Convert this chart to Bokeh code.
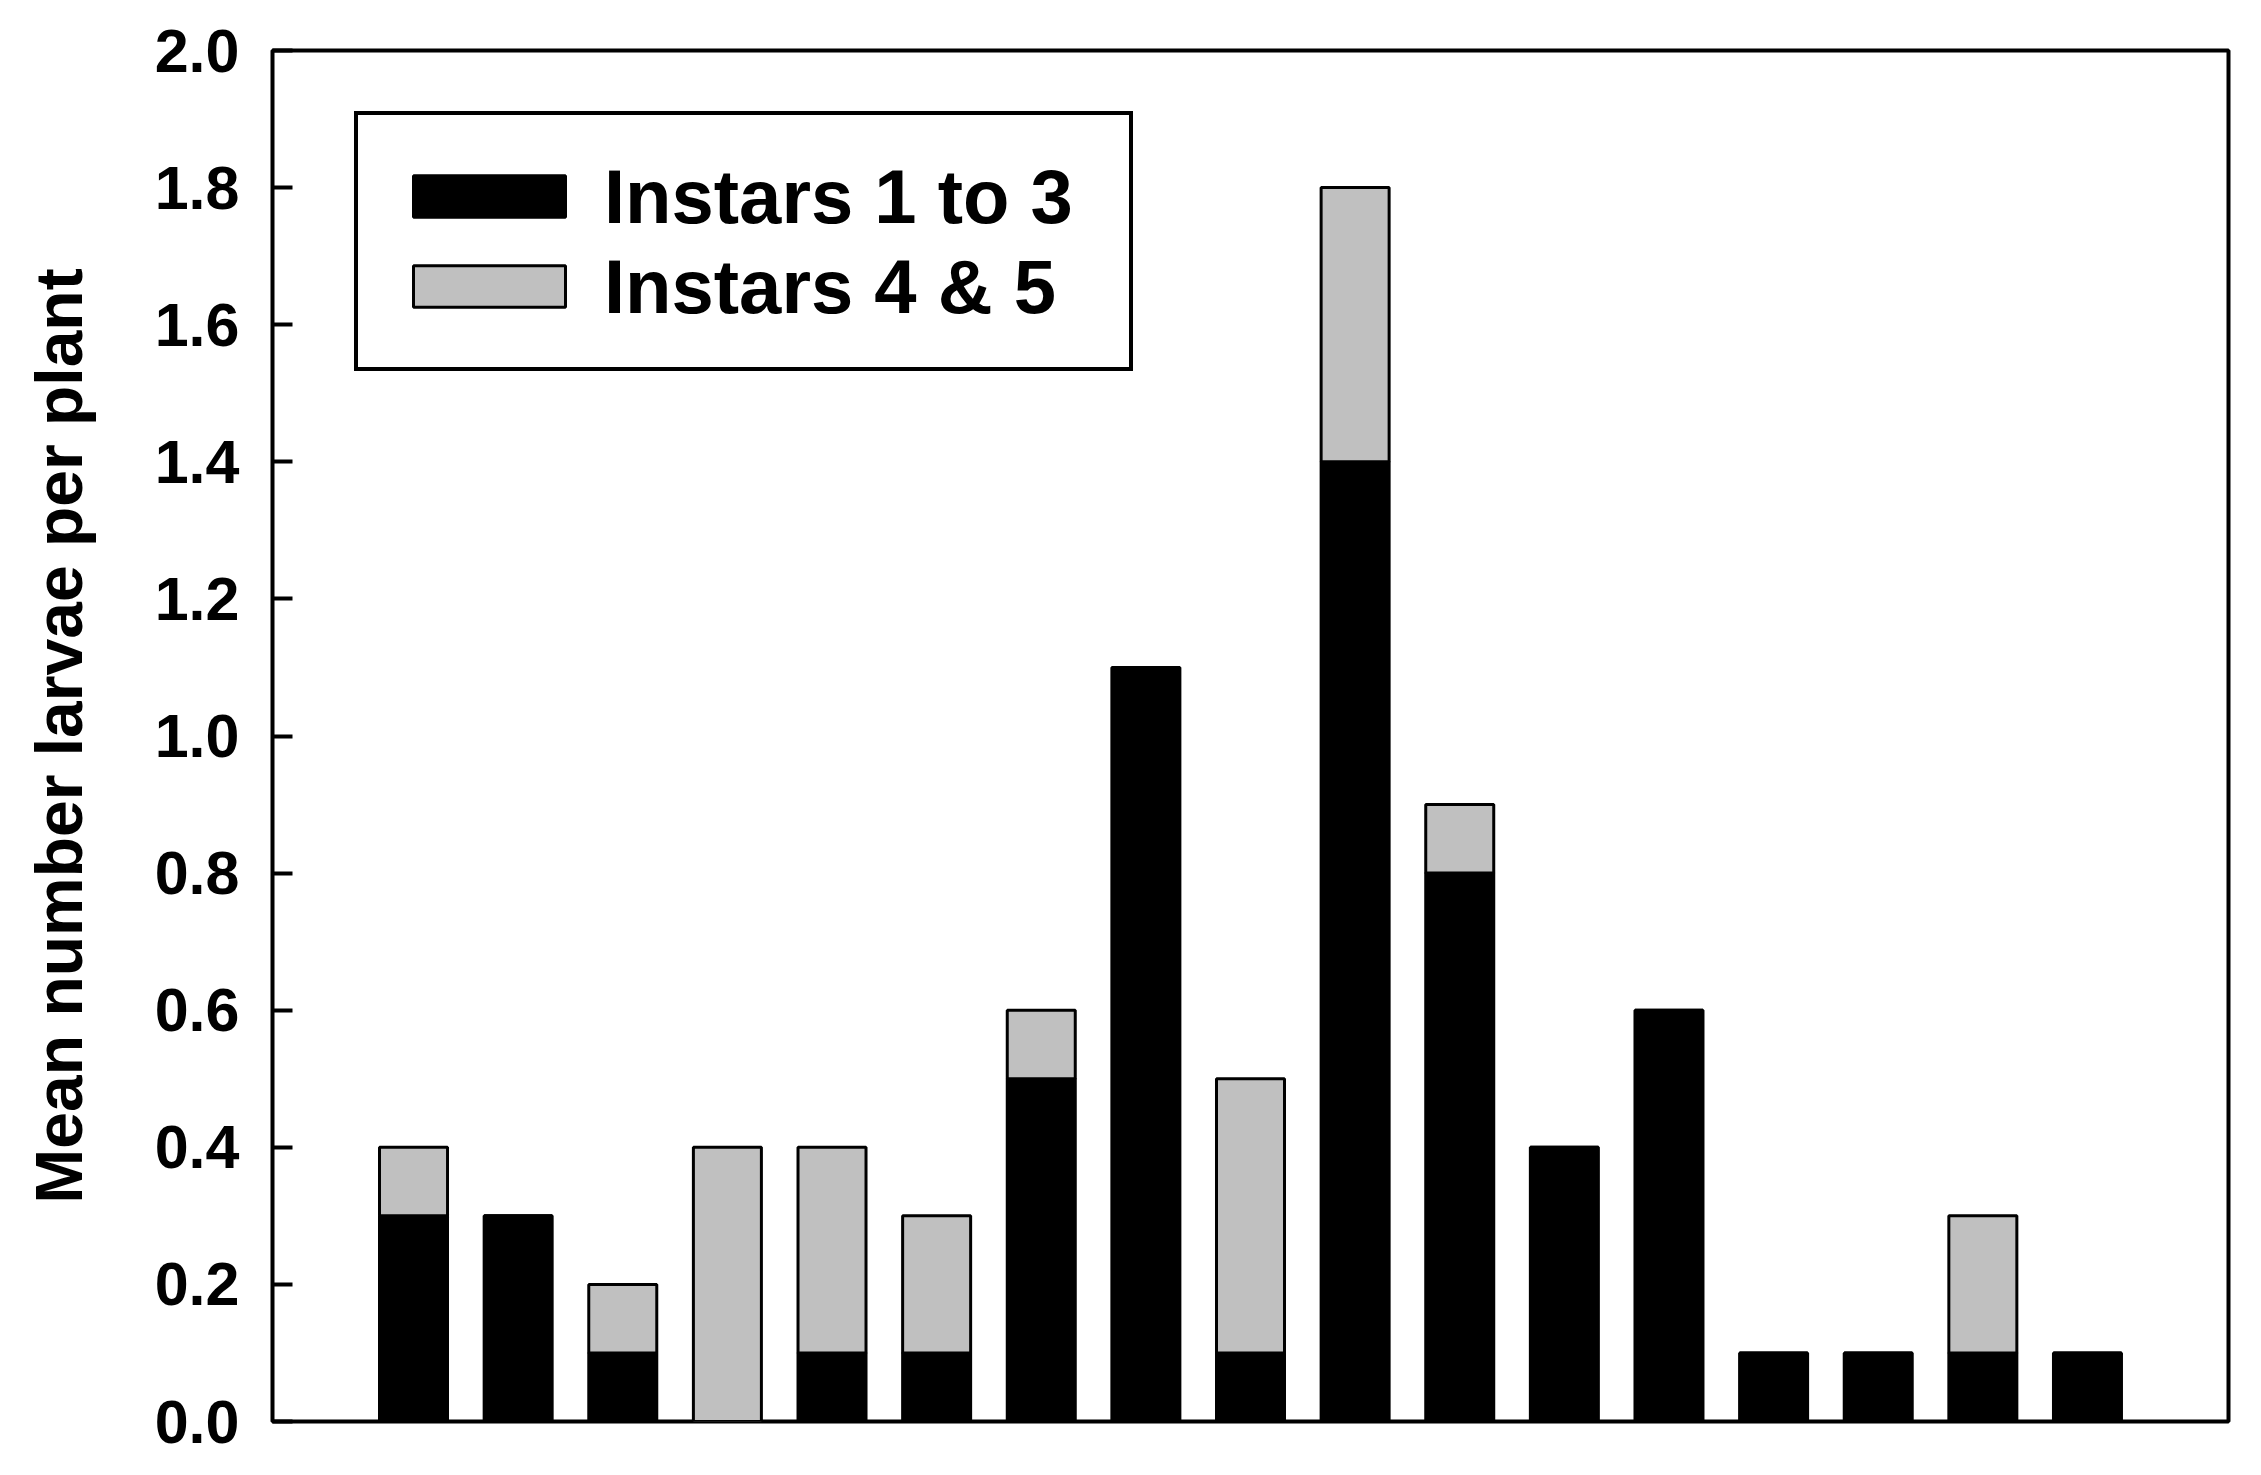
from bokeh.plotting import figure
from bokeh.models import ColumnDataSource, Legend, LegendItem, FixedTicker, Range1d, NumeralTickFormatter
from bokeh.embed import file_html
from bokeh.resources import INLINE

# ---- data ----
positions = list(range(1, 18))
instars_1_to_3 = [0.3, 0.3, 0.1, 0.0, 0.1, 0.1, 0.5, 1.1, 0.1, 1.4, 0.8, 0.4, 0.6, 0.1, 0.1, 0.1, 0.1]
instars_4_and_5 = [0.1, 0.0, 0.1, 0.4, 0.3, 0.2, 0.1, 0.0, 0.4, 0.4, 0.1, 0.0, 0.0, 0.0, 0.0, 0.2, 0.0]
series_labels = ["Instars 1 to 3", "Instars 4 & 5"]
y_ticks = [0.0, 0.2, 0.4, 0.6, 0.8, 1.0, 1.2, 1.4, 1.6, 1.8, 2.0]
y_label = "Mean number larvae per plant"

FONT = "Liberation Sans"
FRAME_W, FRAME_H = 1956, 1371

source = ColumnDataSource(dict(x=positions, early=instars_1_to_3, late=instars_4_and_5))

p = figure(
    frame_width=FRAME_W, frame_height=FRAME_H,
    min_border_left=272, min_border_right=17, min_border_top=50, min_border_bottom=38,
    x_range=Range1d(-0.348, 18.348), y_range=Range1d(0, 2.0),
    x_axis_location=None,
    toolbar_location=None, output_backend="svg",
    background_fill_color="white", border_fill_color="white",
)
p.grid.visible = False
p.outline_line_color = "black"
p.outline_line_width = 4
p.outline_line_alpha = 1.0

renderers = p.vbar_stack(
    ["early", "late"], x="x", width=0.65, source=source,
    fill_color=["black", "#C0C0C0"], line_color="black", line_width=3,
)

ya = p.yaxis[0]
ya.ticker = FixedTicker(ticks=y_ticks)
ya.formatter = NumeralTickFormatter(format="0.0")
ya.axis_line_color = None
ya.major_tick_in = 20
ya.major_tick_out = 0
ya.major_tick_line_width = 4
ya.major_tick_line_color = "black"
ya.minor_tick_line_color = None
ya.major_label_text_font = FONT
ya.major_label_text_font_style = "bold"
ya.major_label_text_font_size = "61px"
ya.major_label_text_color = "black"
ya.major_label_standoff = 33
ya.axis_label = y_label
ya.axis_label_text_font = FONT
ya.axis_label_text_font_style = "bold"
ya.axis_label_text_font_size = "66px"
ya.axis_label_text_color = "black"
ya.axis_label_standoff = 56

LEG_H = 260
legend = Legend(
    items=[LegendItem(label=series_labels[0], renderers=[renderers[0]]),
           LegendItem(label=series_labels[1], renderers=[renderers[1]])],
    location=(82, FRAME_H - 61 - LEG_H),
    orientation="vertical",
    glyph_width=190, glyph_height=52,
    label_standoff=20,
    label_width=489, label_height=90,
    label_text_font=FONT, label_text_font_style="bold", label_text_font_size="76px",
    label_text_color="black",
    padding=36, spacing=0, margin=0,
    border_line_color="black", border_line_width=4, border_line_alpha=1.0,
    background_fill_color="white", background_fill_alpha=1.0,
)
p.add_layout(legend, "center")

open("out.html", "w").write(file_html(p, INLINE))
